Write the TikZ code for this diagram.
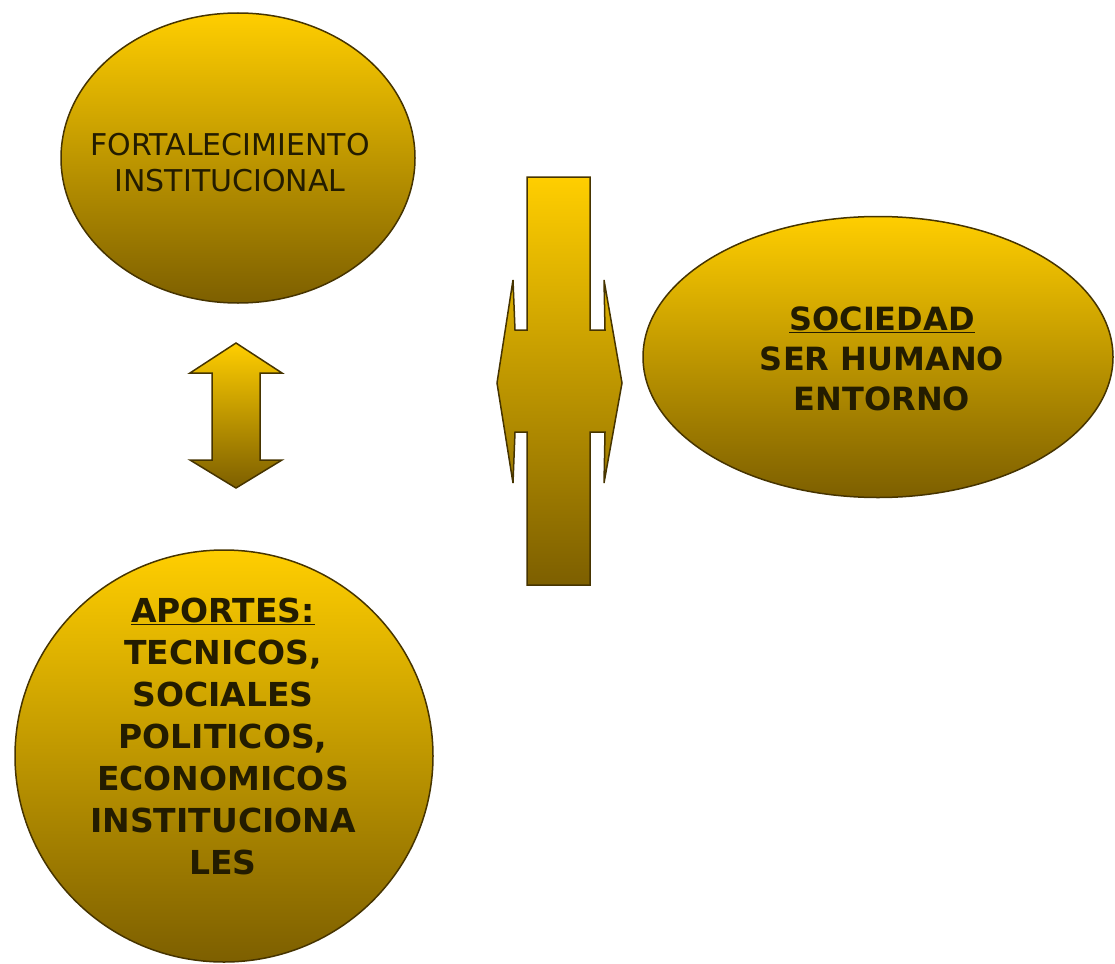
\documentclass[tikz,border=0pt]{standalone}
\usepackage{fontspec}
\setmainfont{DejaVu Sans}
\usetikzlibrary{shapes.geometric}
\definecolor{gtop}{RGB}{255,206,0}
\definecolor{gmid}{RGB}{222,176,0}
\definecolor{gbot}{RGB}{125,95,0}
\definecolor{edgecol}{RGB}{70,52,0}
\definecolor{ink}{RGB}{35,28,0}
\begin{document}
\begin{tikzpicture}[x=1pt,y=-1pt,
  gold/.style={top color=gtop, middle color=gmid, bottom color=gbot, draw=edgecol, line width=1.5pt},
  blob/.style={gold, ellipse, inner sep=0pt},
  lbl/.style={text=ink, align=center, inner sep=0pt}]
\useasboundingbox (0,0) rectangle (1115,963);
% shapes
\node[blob, minimum width=354pt, minimum height=290pt] (fort) at (238,158) {};
\node[blob, minimum width=470pt, minimum height=281pt] (soc) at (878,357) {};
\node[blob, minimum width=418pt, minimum height=412pt] (apo) at (224,756) {};
% small vertical double arrow
\draw[gold] (236,343) -- (282,373) -- (260,373) -- (260,460) -- (282,460)
  -- (236,488) -- (190,460) -- (212,460) -- (212,373) -- (190,373) -- cycle;
% cross-shaped double arrow
\draw[gold] (527,177) -- (590,177) -- (590,330) -- (605,330) -- (604,280)
  -- (622,383) -- (604,483) -- (605,432) -- (590,432) -- (590,585)
  -- (527,585) -- (527,432) -- (515,432) -- (513,483) -- (497,383)
  -- (513,280) -- (515,330) -- (527,330) -- cycle;
% texts
\node[lbl, font=\fontsize{30}{36}\selectfont] (fortt) at (230,163)
  {FORTALECIMIENTO\\INSTITUCIONAL};
\node[lbl, font=\fontsize{32}{40}\selectfont\bfseries] (soct) at (882,359)
  {\underline{SOCIEDAD}\\SER HUMANO\\ENTORNO};
\node[lbl, font=\fontsize{33}{42}\selectfont\bfseries] (apot) at (223,736)
  {\underline{APORTES:}\\TECNICOS,\\SOCIALES\\POLITICOS,\\ECONOMICOS\\INSTITUCIONA\\LES};
\end{tikzpicture}
\end{document}
